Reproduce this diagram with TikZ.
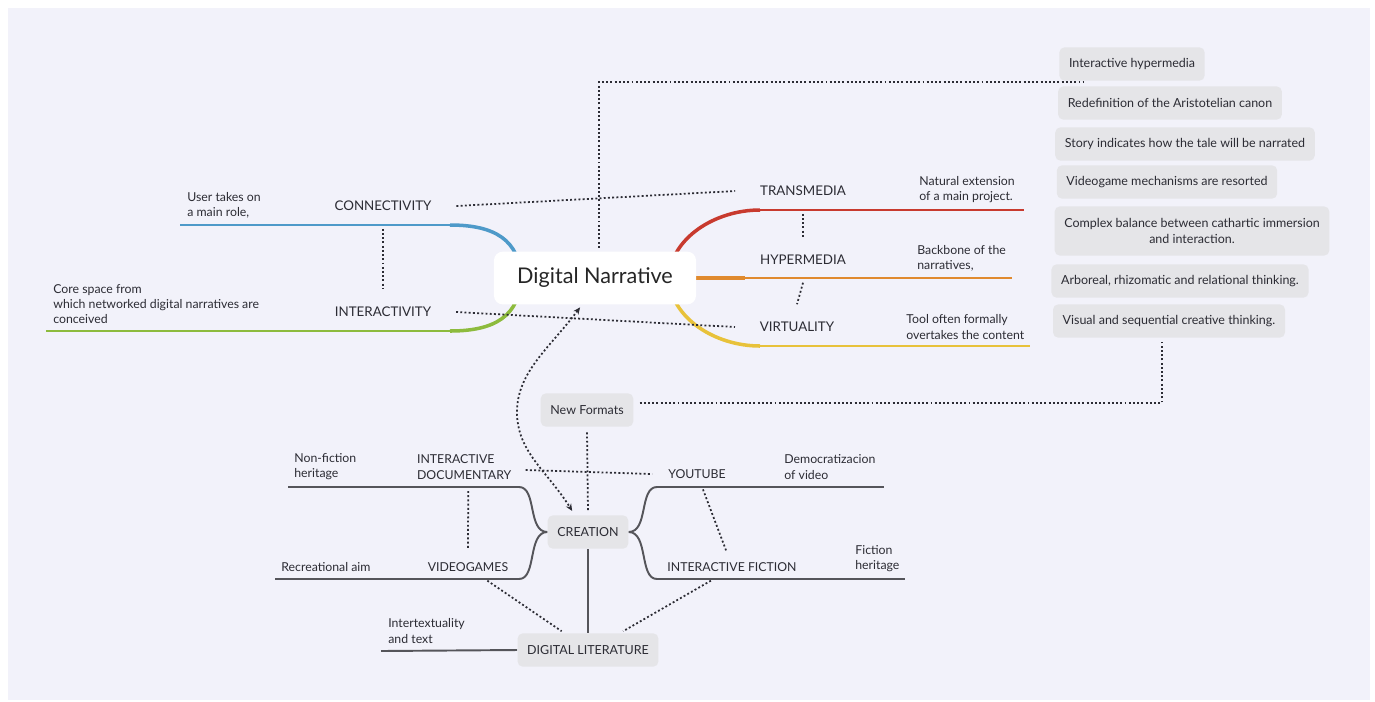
\documentclass[tikz,border=0pt]{standalone}
\usepackage{fontspec}
\setmainfont{Lato}
\usetikzlibrary{arrows.meta}

\definecolor{paper}{RGB}{242,242,250}
\definecolor{ink}{RGB}{44,44,52}
\definecolor{cardgray}{RGB}{229,229,232}
\definecolor{twig}{RGB}{85,85,90}
\definecolor{bluebr}{RGB}{78,154,201}
\definecolor{greenbr}{RGB}{141,187,61}
\definecolor{redbr}{RGB}{200,58,46}
\definecolor{orangebr}{RGB}{224,138,46}
\definecolor{yellowbr}{RGB}{232,194,58}

\pgfdeclarelayer{back}
\pgfdeclarelayer{background}
\pgfsetlayers{back,background,main}

\tikzset{
  topic/.style={font=\fontsize{7.6}{9.5}\selectfont, text=ink, inner sep=1pt},
  subtopic/.style={font=\fontsize{7}{8.8}\selectfont, text=ink, inner sep=1pt},
  note/.style={font=\fontsize{7}{8.6}\selectfont, text=ink, align=left, inner sep=0pt, anchor=west},
  card/.style={fill=cardgray, rounded corners=3pt, font=\fontsize{7.1}{9}\selectfont, text=ink, inner xsep=5.5pt, minimum height=19pt},
  rel/.style={draw=ink, line width=1pt, dash pattern=on 1.1pt off 1.3pt},
  trunk/.style={draw=twig, line width=1.1pt},
  fine/.style={draw=twig, line width=0.65pt},
}

\begin{document}
\begin{tikzpicture}[x=0.02cm, y=-0.02cm]
\useasboundingbox (0,0) rectangle (1375,701);
\begin{pgfonlayer}{back}
\fill[white] (0,0) rectangle (1375,701);
\fill[paper] (8,8) rectangle (1370,700);
\end{pgfonlayer}

% central topic
\node[fill=white, rounded corners=5pt, minimum width=115pt, minimum height=30pt,
      font=\fontsize{12.3}{14}\selectfont, text=black!85] (dn) at (595,278) {Digital Narrative};

% main topics
\node[topic] (con) at (383,206) {CONNECTIVITY};
\node[topic] (int) at (383,312) {INTERACTIVITY};
\node[topic] (tra) at (803,191) {TRANSMEDIA};
\node[topic] (hyp) at (803,260) {HYPERMEDIA};
\node[topic] (vir) at (797,327) {VIRTUALITY};

% notes
\node[note] (ncon) at (187,205) {User takes on\\a main role,};
\node[note] (nint) at (53,304) {Core space from\\which networked digital narratives are\\conceived};
\node[note] (ntra) at (919,190) {Natural extension\\of a main project.};
\node[note] (nhyp) at (917,258) {Backbone of the\\narratives,};
\node[note] (nvir) at (906,327) {Tool often formally\\overtakes the content};

% cards on the right
\node[card] (ih) at (1132,64) {Interactive hypermedia};
\node[card] (rac) at (1170,103) {Redefinition of the Aristotelian canon};
\node[card] (sto) at (1185,144) {Story indicates how the tale will be narrated};
\node[card] (vmr) at (1167,182) {Videogame mechanisms are resorted};
\node[card, align=center, minimum height=28pt] (cbi) at (1192,231) {Complex balance between cathartic immersion\\and interaction.};
\node[card] (arb) at (1180,281) {Arboreal, rhizomatic and relational thinking.};
\node[card] (vis) at (1169,321) {Visual and sequential creative thinking.};

% creation cluster
\node[card] (nf) at (587,410) {New Formats};
\node[card] (cre) at (588,532) {CREATION};
\node[card] (dl) at (588,650) {DIGITAL LITERATURE};
\node[subtopic, align=left, anchor=west] (idoc) at (415,467) {INTERACTIVE\\DOCUMENTARY};
\node[subtopic] (vg) at (468,567) {VIDEOGAMES};
\node[subtopic] (yt) at (697,474) {YOUTUBE};
\node[subtopic] (ifi) at (732,567) {INTERACTIVE FICTION};
\node[note] (nidoc) at (294,467) {Non-fiction\\heritage};
\node[note] (nvg) at (281,567) {Recreational aim};
\node[note] (nyt) at (784,467) {Democratizacion\\of video};
\node[note] (nifi) at (855,559) {Fiction\\heritage};
\node[note] (ndl) at (388,631) {Intertextuality\\and text};

\begin{pgfonlayer}{background}
% coloured branches
\draw[bluebr, line width=2pt] ([xshift=-42pt]dn.center) .. controls +(-2,-38) and +(45,0) .. (450,225);
\draw[bluebr, line width=1.2pt] (452,225) -- (180,225);
\draw[greenbr, line width=2pt] ([xshift=-42pt]dn.center) .. controls +(-2,38) and +(45,0) .. (450,331);
\draw[greenbr, line width=1.2pt] (452,331) -- (46,331);
\draw[redbr, line width=2pt] ([xshift=42pt]dn.center) .. controls +(2,-40) and +(-45,0) .. (760,210);
\draw[redbr, line width=1.2pt] (758,210) -- (1024,210);
\draw[orangebr, line width=2.2pt] ([xshift=53pt]dn.center) -- (745,278);
\draw[orangebr, line width=1.2pt] (743,278) -- (1012,278);
\draw[yellowbr, line width=2pt] ([xshift=42pt]dn.center) .. controls +(2,40) and +(-45,0) .. (760,346);
\draw[yellowbr, line width=1.2pt] (758,346) -- (1030,346);

% creation branches
\draw[trunk] (cre.west) .. controls +(-20,0) and +(18,0) .. (519,487) -- (420,487);
\draw[fine] (420,487) -- (288,487);
\draw[trunk] (cre.west) .. controls +(-20,0) and +(18,0) .. (519,579) -- (425,579);
\draw[fine] (425,579) -- (275,579);
\draw[trunk] (cre.east) .. controls +(20,0) and +(-18,0) .. (657,487) -- (733,487);
\draw[fine] (733,487) -- (884,487);
\draw[trunk] (cre.east) .. controls +(20,0) and +(-18,0) .. (657,579) -- (803,579);
\draw[fine] (803,579) -- (905,579);
\draw[trunk] (cre.south) -- (dl.north);
\draw[trunk] (dl.west) -- (381,651);

% relationships
\draw[rel] ([yshift=-9pt]con.south) -- ([yshift=9pt]int.north);
\draw[rel] ([yshift=-9pt]tra.south) -- ([yshift=9pt]hyp.north);
\draw[rel] ([yshift=-9pt]hyp.south) -- ([yshift=9pt]vir.north);
\draw[rel] ([xshift=13pt]con.east) -- ([xshift=-13pt]tra.west);
\draw[rel] ([xshift=13pt]int.east) -- ([xshift=-13pt]vir.west);
\draw[rel] ([xshift=2.3pt,yshift=2pt]dn.north) |- ([xshift=14pt,yshift=-0.6pt]ih.south west);
\draw[rel, {Stealth[length=4pt,width=3.5pt]}-{Stealth[length=4pt,width=3.5pt]}]
  ([xshift=-8.5pt,yshift=-1.5pt]dn.south) .. controls +(-30,40) and +(0,-40) .. (517,412)
  .. controls +(0,40) and +(-25,-40) .. ([xshift=-9pt,yshift=2.3pt]cre.north);
\draw[rel] ([xshift=3.4pt,yshift=4pt]nf.east) -| ([xshift=-4pt,yshift=-2.3pt]vis.south);
\draw[rel] ([yshift=-3pt]nf.south) -- ([yshift=2pt]cre.north);
\draw[rel] ([xshift=2.3pt,yshift=-5.5pt]idoc.south) -- ([yshift=6pt]vg.north);
\draw[rel] ([xshift=7pt,yshift=-1.7pt]idoc.east) -- ([xshift=-8pt]yt.west);
\draw[rel] ([xshift=3.4pt,yshift=-5pt]yt.south) -- ([xshift=-3.4pt,yshift=5.7pt]ifi.north);
\draw[rel] ([xshift=11pt,yshift=-4pt]vg.south) -- ([xshift=-15pt,yshift=1pt]dl.north);
\draw[rel] ([xshift=-12pt,yshift=-4pt]ifi.south) -- ([xshift=20pt,yshift=1pt]dl.north);
\end{pgfonlayer}
\end{tikzpicture}
\end{document}
